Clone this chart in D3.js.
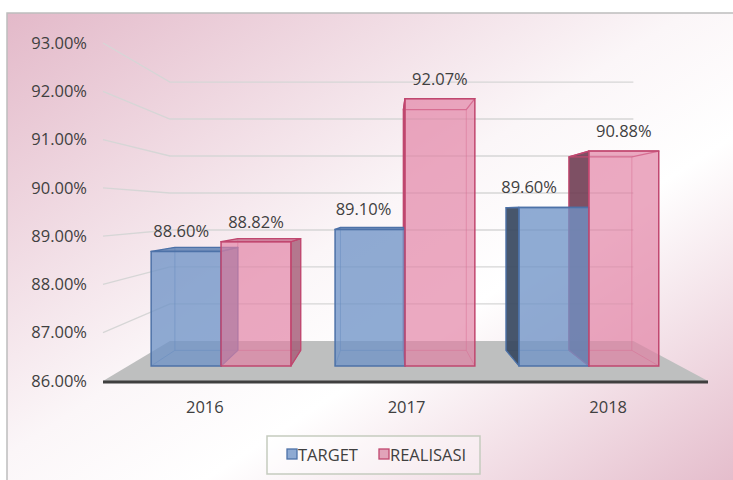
<!DOCTYPE html>
<html>
<head>
<meta charset="utf-8">
<script src="https://cdn.jsdelivr.net/npm/d3@7/dist/d3.min.js"></script>
<style>
  html, body { margin: 0; padding: 0; background: #ffffff; }
  svg { display: block; }
  text { font-family: "Open Sans", "Liberation Sans", sans-serif; fill: #404040; }
</style>
</head>
<body>
<div id="chart"></div>
<script>
// ---- data ----
const categories = ["2016", "2017", "2018"];
const seriesNames = ["TARGET", "REALISASI"];
const targetValues = [88.60, 89.10, 89.60];
const realisasiValues = [88.82, 92.07, 90.88];
const yTickValues = [86, 87, 88, 89, 90, 91, 92, 93];

// ---- layout ----
const W = 733, H = 480;
const svg = d3.select("#chart").append("svg").attr("width", W).attr("height", H);

const defs = svg.append("defs");
const bg = defs.append("linearGradient").attr("id", "bg")
  .attr("x1", 0).attr("y1", 0).attr("x2", 1).attr("y2", 1);
bg.append("stop").attr("offset", 0).attr("stop-color", "#e3b9c9");
bg.append("stop").attr("offset", 0.46).attr("stop-color", "#fbf6f8");
bg.append("stop").attr("offset", 0.62).attr("stop-color", "#ffffff");
bg.append("stop").attr("offset", 1).attr("stop-color", "#e3b9c9");

svg.append("rect").attr("x", 7).attr("y", 13).attr("width", 740).attr("height", 480)
  .attr("fill", "url(#bg)").attr("stroke", "#bdbdbd").attr("stroke-width", 1.5);

// scales (front plane of the 3D box)
const y = d3.scaleLinear().domain([86, 93]).range([381, 43]);
const x0 = d3.scaleBand().domain(categories).range([104, 709]).paddingInner(0.24).paddingOuter(0.12);
const x1 = d3.scaleBand().domain(seriesNames).range([0, x0.bandwidth()]);

// perspective projection
const vx = 389, vy = 209.8;
const P = (X, Y, s) => [vx + (X - vx) * s, vy + (Y - vy) * s];
const sFront = 1, sBack = 0.766, sBarF = 0.912, sBarB = 0.821;
const X0 = 103, X1 = 708;

const poly = pts => "M" + pts.map(p => p.join(",")).join("L") + "Z";
const line = pts => "M" + pts.map(p => p.join(",")).join("L");

// floor
svg.append("path")
  .attr("d", poly([P(X0, y(86), sFront), P(X1, y(86), sFront), P(X1, y(86), sBack), P(X0, y(86), sBack)]))
  .attr("fill", "#bebfbf");

// gridlines (side wall + back wall)
svg.append("g").selectAll("path").data(yTickValues.filter(v => v > 86)).join("path")
  .attr("d", v => line([P(X0, y(v), sFront), P(X0, y(v), sBack), P(X1, y(v), sBack)]))
  .attr("fill", "none").attr("stroke", "#d6d6d6").attr("stroke-width", 1.3);

// front edge line
svg.append("line").attr("x1", X0).attr("x2", X1).attr("y1", y(86) + 1).attr("y2", y(86) + 1)
  .attr("stroke", "#3f3f3f").attr("stroke-width", 3);

// bars
const styles = {
  TARGET: { front: "rgba(112,148,198,0.78)", edge: "#4d72a8", inner: "rgba(77,114,168,0.55)",
            leftSide: "rgba(55,72,96,0.92)", rightSide: "rgba(85,115,160,0.8)", top: "rgba(95,130,180,0.85)" },
  REALISASI: { front: "rgba(226,128,164,0.68)", edge: "#c0476f", inner: "rgba(192,71,111,0.5)",
            leftSide: "rgba(108,56,78,0.88)", rightSide: "rgba(165,92,118,0.82)", top: "rgba(200,110,142,0.85)" }
};
const valuesBySeries = { TARGET: targetValues, REALISASI: realisasiValues };

const bars = [];
categories.forEach((c, i) => {
  seriesNames.forEach(sn => {
    const v = valuesBySeries[sn][i];
    const a = x0(c) + x1(sn), b = a + x1.bandwidth();
    const yt = y(v), yb = y(86);
    bars.push({
      c, sn, v, a, b, yt, yb,
      FTL: P(a, yt, sBarF), FTR: P(b, yt, sBarF), FBL: P(a, yb, sBarF), FBR: P(b, yb, sBarF),
      BTL: P(a, yt, sBarB), BTR: P(b, yt, sBarB), BBL: P(a, yb, sBarB), BBR: P(b, yb, sBarB)
    });
  });
});

const gBars = svg.append("g");
// inner (hidden) edges seen through the transparent faces
bars.forEach(d => {
  const st = styles[d.sn];
  gBars.append("path")
    .attr("d", line([d.BTL, d.BBL, d.BBR, d.BTR]) + line([d.BBL, d.FBL]) + line([d.BBR, d.FBR]))
    .attr("fill", "none").attr("stroke", st.inner).attr("stroke-width", 1);
});
// side faces
bars.forEach(d => {
  const st = styles[d.sn];
  if (d.a - vx > 4) {
    gBars.append("path").attr("d", poly([d.BTL, d.FTL, d.FBL, d.BBL]))
      .attr("fill", st.leftSide).attr("stroke", st.edge).attr("stroke-width", 1.3).attr("stroke-linejoin", "round");
  }
  if (vx - d.b > 4) {
    gBars.append("path").attr("d", poly([d.FTR, d.BTR, d.BBR, d.FBR]))
      .attr("fill", st.rightSide).attr("stroke", st.edge).attr("stroke-width", 1.3).attr("stroke-linejoin", "round");
  }
});
// top faces
bars.forEach(d => {
  const st = styles[d.sn];
  const visible = d.FTL[1] > vy;
  gBars.append("path").attr("d", poly([d.BTL, d.BTR, d.FTR, d.FTL]))
    .attr("fill", visible ? st.top : "none").attr("stroke", st.edge).attr("stroke-width", 1.3)
    .attr("stroke-linejoin", "round");
});
// front faces
bars.forEach(d => {
  const st = styles[d.sn];
  gBars.append("path").attr("d", poly([d.FTL, d.FTR, d.FBR, d.FBL]))
    .attr("fill", st.front).attr("stroke", st.edge).attr("stroke-width", 1.5);
});

// data labels
const gLab = svg.append("g");
bars.forEach((d, k) => {
  const cx = (d.FTL[0] + d.FTR[0]) / 2;
  const t = gLab.append("text").attr("x", cx).attr("y", d.FTL[1] - 14)
    .attr("text-anchor", "middle").attr("font-size", 16.5)
    .text(d.v.toFixed(2) + "%");
  // avoid collision with a taller neighbour on the right
  const nb = bars[k + 1];
  if (nb && nb.c === d.c && nb.v > d.v) {
    const w = t.node().getComputedTextLength();
    const limit = Math.min(nb.BTL[0], nb.FTL[0]) - 12;
    const shift = Math.min(0, limit - (cx + w / 2));
    t.attr("x", cx + shift);
  }
});

// axes
const yAxis = d3.axisLeft(y).tickValues(yTickValues).tickSize(0).tickPadding(16)
  .tickFormat(v => v.toFixed(2) + "%");
const gy = svg.append("g").attr("transform", `translate(${X0},0)`).call(yAxis);
gy.select(".domain").remove();
gy.selectAll("text").attr("font-size", 16.5).attr("fill", "#404040")
  .style("font-family", '"Open Sans", "Liberation Sans", sans-serif');

const xAxis = d3.axisBottom(x0).tickSize(0).tickPadding(20);
const gx = svg.append("g").attr("transform", `translate(0,${y(86)})`).call(xAxis);
gx.select(".domain").remove();
gx.selectAll("text").attr("font-size", 16.5).attr("fill", "#404040")
  .style("font-family", '"Open Sans", "Liberation Sans", sans-serif');

// legend
const lg = svg.append("g");
lg.append("rect").attr("x", 267).attr("y", 436).attr("width", 213).attr("height", 38)
  .attr("fill", "rgba(255,255,255,0.35)").attr("stroke", "#c5cbbf").attr("stroke-width", 1.5);
const legendItems = [
  { name: seriesNames[0], fill: "#8eaad3", stroke: "#4d72a8", x: 287 },
  { name: seriesNames[1], fill: "#e2a3ba", stroke: "#c0476f", x: 379 }
];
legendItems.forEach(it => {
  lg.append("rect").attr("x", it.x).attr("y", 449).attr("width", 10).attr("height", 10)
    .attr("fill", it.fill).attr("stroke", it.stroke).attr("stroke-width", 1.3);
  lg.append("text").attr("x", it.x + 11).attr("y", 460.5).attr("font-size", 16.5).text(it.name);
});
</script>
</body>
</html>
